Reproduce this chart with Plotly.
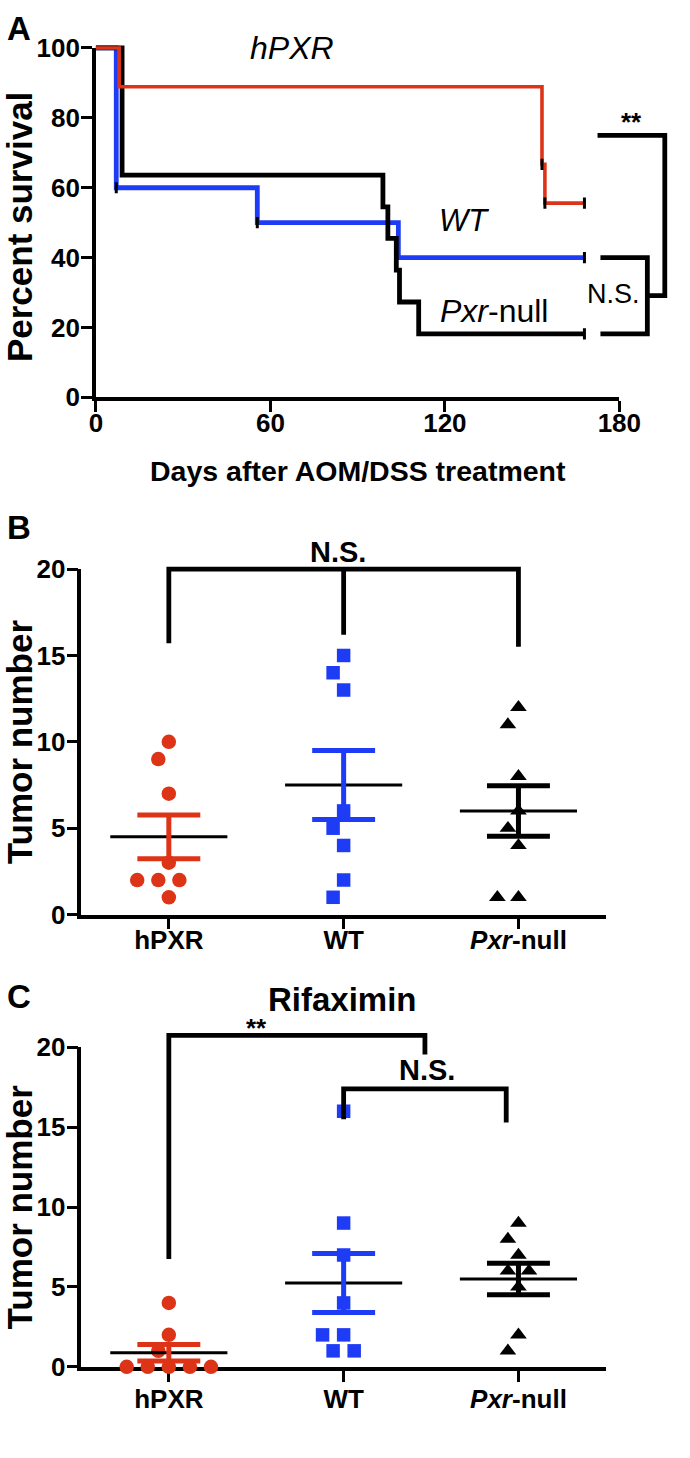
import numpy as np
import plotly.graph_objects as go

W, H = 690, 1458

# ---------------- Data ----------------
# Panel A: Kaplan-Meier survival (days after treatment, percent survival)
days_hpxr = [0, 8, 153.4, 154.4, 168]
surv_hpxr = [100, 88.9, 66.7, 55.6, 55.6]
days_wt = [0, 7, 55.5, 104, 168]
surv_wt = [100, 60, 50, 40, 40]
days_null = [0, 9, 98.7, 100.4, 103.3, 104.4, 111, 168]
surv_null = [100, 63.6, 54.5, 45.5, 36.4, 27.3, 18.2, 18.2]
cens_hpxr_days = [153.4, 154.4, 168]
cens_hpxr_surv = [66.7, 55.6, 55.6]
cens_wt_days = [7, 55.5, 168]
cens_wt_surv = [60, 50, 40]
cens_null_days = [168]
cens_null_surv = [18.2]
a_xticks = [0, 60, 120, 180]
a_yticks = [0, 20, 40, 60, 80, 100]

# Panels B and C: tumor numbers per mouse
groups = ["hPXR", "WT", "<i>Pxr</i>-null"]
b_hpxr = [10, 9, 7, 3, 2, 2, 2, 1]
b_wt = [15, 14, 13, 6, 5, 4, 2, 1]
b_null = [12, 11, 8, 6, 5, 4, 1, 1]
c_hpxr = [4, 2, 1, 0, 0, 0, 0, 0]
c_wt = [16, 9, 7, 4, 2, 2, 1, 1]
c_null = [9, 8, 7, 6, 6, 5, 2, 1]
bc_yticks = [0, 5, 10, 15, 20]

RED = "#DD3418"
BLUE = "#1E3CF5"
BLACK = "#000000"
FONT = "Liberation Sans, Arial, sans-serif"

# ---------------- Geometry ----------------
# the photographed page appears slightly inset/scaled; map wanted picture px -> layout px
OX, OY, SX, SY = 6.0, 12.0, 0.959, 0.981

def DX(t):
    return (t - OX) / SX

def DY(t):
    return (t - OY) / SY

def PX(d):
    return d / W

def PY(d):
    return 1 - d / H

a_x0, a_x180 = DX(95), DX(619)
a_y0, a_y100 = DY(395), DY(45)
kA_x = (a_x180 - a_x0) / 180.0
kA_y = (a_y0 - a_y100) / 100.0
bc_xl, bc_xr = DX(80.5), DX(605.5)
kBC_x = (bc_xr - bc_xl) / 3.0
b_y0, b_y20 = DY(913), DY(567)
c_y0, c_y20 = DY(1366), DY(1046)
kB_y = (b_y0 - b_y20) / 20.0
kC_y = (c_y0 - c_y20) / 20.0


def swarm(vals, center, kx, ky, step=11.0, dmin=18.5):
    placed, xs = [], []
    cands = [0]
    for i in range(1, 30):
        cands += [-i, i]
    for v in vals:
        for c in cands:
            if all(((c - pc) * step) ** 2 + ((v - pv) * ky) ** 2 >= dmin ** 2 for pc, pv in placed):
                break
        placed.append((c, v))
        xs.append(center + c * step / kx)
    return xs


fig = go.Figure()

axis_common = dict(showgrid=False, zeroline=False, showline=True, linecolor=BLACK, linewidth=3.6,
                   ticks="outside", ticklen=11, tickwidth=3, tickcolor=BLACK, fixedrange=True,
                   tickfont=dict(family=FONT, size=26, color=BLACK, weight="bold"))

layout = dict(
    width=W, height=H, margin=dict(l=0, r=0, t=0, b=0),
    paper_bgcolor="white", plot_bgcolor="rgba(0,0,0,0)", showlegend=False,
    font=dict(family=FONT, color=BLACK),
    xaxis=dict(domain=[PX(a_x0), PX(a_x180)], range=[0, 180], anchor="y", tickvals=a_xticks,
               ticklabelstandoff=-11, **axis_common),
    yaxis=dict(domain=[PY(a_y0), PY(a_y100)], range=[0, 100], anchor="x", tickvals=a_yticks,
               ticklabelstandoff=-4, **axis_common),
    xaxis2=dict(domain=[PX(bc_xl), PX(bc_xr)], range=[-0.5, 2.5], anchor="y2", tickvals=[0, 1, 2],
                ticktext=groups, ticklabelstandoff=-12, **axis_common),
    yaxis2=dict(domain=[PY(b_y0), PY(b_y20)], range=[0, 20], anchor="x2", tickvals=bc_yticks,
                ticklabelstandoff=-4, **axis_common),
    xaxis3=dict(domain=[PX(bc_xl), PX(bc_xr)], range=[-0.5, 2.5], anchor="y3", tickvals=[0, 1, 2],
                ticktext=groups, ticklabelstandoff=-5, **axis_common),
    yaxis3=dict(domain=[PY(c_y0), PY(c_y20)], range=[0, 20], anchor="x3", tickvals=bc_yticks,
                ticklabelstandoff=-4, **axis_common),
)

ax_lo = -2
ax_hi = (W - a_x0) / kA_x
ay_lo, ay_hi = -2, 105
layout["xaxis4"] = dict(domain=[PX(a_x0 + ax_lo * kA_x), PX(a_x0 + ax_hi * kA_x)], range=[ax_lo, ax_hi],
                        anchor="y4", visible=False, fixedrange=True)
layout["yaxis4"] = dict(domain=[PY(a_y0 - ay_lo * kA_y), PY(a_y0 - ay_hi * kA_y)], range=[ay_lo, ay_hi],
                        anchor="x4", visible=False, fixedrange=True)
by_lo, by_hi = -1, 22
cy_lo, cy_hi = -1, 24
layout["xaxis5"] = dict(domain=[PX(bc_xl), PX(bc_xr)], range=[-0.5, 2.5], anchor="y5", visible=False, fixedrange=True)
layout["yaxis5"] = dict(domain=[PY(b_y0 - by_lo * kB_y), PY(b_y0 - by_hi * kB_y)], range=[by_lo, by_hi],
                        anchor="x5", visible=False, fixedrange=True)
layout["xaxis6"] = dict(domain=[PX(bc_xl), PX(bc_xr)], range=[-0.5, 2.5], anchor="y6", visible=False, fixedrange=True)
layout["yaxis6"] = dict(domain=[PY(c_y0 - cy_lo * kC_y), PY(c_y0 - cy_hi * kC_y)], range=[cy_lo, cy_hi],
                        anchor="x6", visible=False, fixedrange=True)

for xa, ya in [("x", "y"), ("x2", "y2"), ("x3", "y3")]:
    fig.add_trace(go.Scatter(x=[None], y=[None], xaxis=xa, yaxis=ya, hoverinfo="skip"))

# ---------------- Panel A ----------------
for d, s, col, w in [(days_wt, surv_wt, BLUE, 4.8), (days_null, surv_null, BLACK, 4.8),
                     (days_hpxr, surv_hpxr, RED, 3.6)]:
    fig.add_trace(go.Scatter(x=d, y=s, mode="lines", line=dict(color=col, width=w, shape="hv"),
                             xaxis="x4", yaxis="y4", hoverinfo="skip"))
cd = cens_hpxr_days + cens_wt_days + cens_null_days
cs = cens_hpxr_surv + cens_wt_surv + cens_null_surv
fig.add_trace(go.Scatter(x=cd, y=cs, mode="markers", xaxis="x4", yaxis="y4", hoverinfo="skip",
                         marker=dict(symbol="line-ns", size=8, line=dict(color=BLACK, width=3))))

ns_top, ns_bot = surv_wt[-1], surv_null[-1]
ss_top = 75
ss_bot = (ns_top + ns_bot) / 2
ss_right = ax_hi - 1.1
ns_right = ss_right - 6.0
ss_left, ns_left = 172.5, 173.5
fig.add_trace(go.Scatter(x=[ns_left, ns_right, ns_right, ns_left], y=[ns_top, ns_top, ns_bot, ns_bot],
                         mode="lines", line=dict(color=BLACK, width=4.8), xaxis="x4", yaxis="y4",
                         hoverinfo="skip"))
fig.add_trace(go.Scatter(x=[ss_left, ss_right, ss_right, ns_right], y=[ss_top, ss_top, ss_bot, ss_bot],
                         mode="lines", line=dict(color=BLACK, width=4.8), xaxis="x4", yaxis="y4",
                         hoverinfo="skip"))

# ---------------- Panels B and C ----------------
symbols = ["circle", "square", "triangle-up"]
colors = [RED, BLUE, BLACK]
sizes = [14.5, 13.5, 14.5]
CAP_HALF = 0.18
MEAN_HALF = 0.335


def scatter_panel(sets, xa, ya, ky):
    for i, vals in enumerate(sets):
        xs = swarm(vals, i, kBC_x, ky)
        fig.add_trace(go.Scatter(x=xs, y=vals, mode="markers", xaxis=xa, yaxis=ya, cliponaxis=False,
                                 hoverinfo="skip",
                                 marker=dict(symbol=symbols[i], size=sizes[i], color=colors[i],
                                             line=dict(width=0))))
    for i, vals in enumerate(sets):
        v = np.array(vals, dtype=float)
        m = v.mean()
        se = v.std(ddof=1) / np.sqrt(len(v))
        fig.add_trace(go.Scatter(x=[i - MEAN_HALF, i + MEAN_HALF], y=[m, m], mode="lines",
                                 line=dict(color=BLACK, width=3), xaxis=xa, yaxis=ya, hoverinfo="skip"))
        fig.add_trace(go.Scatter(
            x=[i, i, None, i - CAP_HALF, i + CAP_HALF, None, i - CAP_HALF, i + CAP_HALF],
            y=[m - se, m + se, None, m + se, m + se, None, m - se, m - se], mode="lines",
            line=dict(color=colors[i], width=5), xaxis=xa, yaxis=ya, hoverinfo="skip"))


scatter_panel([b_hpxr, b_wt, b_null], "x5", "y5", kB_y)
scatter_panel([c_hpxr, c_wt, c_null], "x6", "y6", kC_y)

fig.add_trace(go.Scatter(x=[0, 0, 2, 2, None, 1, 1], y=[15.7, 20, 20, 15.5, None, 20, 16.2], mode="lines",
                         line=dict(color=BLACK, width=4.8), xaxis="x5", yaxis="y5", hoverinfo="skip"))
ns_l, ns_r = 1.0, 1.93
ns_mid = (ns_l + ns_r) / 2
fig.add_trace(go.Scatter(x=[0, 0, ns_mid, ns_mid], y=[6.75, 20.75, 20.75, 19.55], mode="lines",
                         line=dict(color=BLACK, width=4.8), xaxis="x6", yaxis="y6", hoverinfo="skip"))
fig.add_trace(go.Scatter(x=[ns_l, ns_l, ns_r, ns_r], y=[15.5, 17.4, 17.4, 15.3], mode="lines",
                         line=dict(color=BLACK, width=4.8), xaxis="x6", yaxis="y6", hoverinfo="skip"))

# ---------------- Text ----------------
def ann(text, x, y, xref="paper", yref="paper", size=24, weight="bold", angle=0, xanchor="center",
        yanchor="middle"):
    return dict(text=text, x=x, y=y, xref=xref, yref=yref, showarrow=False, textangle=angle,
                xanchor=xanchor, yanchor=yanchor,
                font=dict(family=FONT, size=size, color=BLACK, weight=weight))


annotations = [
    ann("A", PX(13), PY(14), size=33),
    ann("B", PX(13), PY(DY(525)), size=33),
    ann("C", PX(13), PY(DY(995)), size=33),
    ann("Percent survival", PX(13), PY(DY(224)), size=35, angle=-90),
    ann("Tumor number", PX(13), PY(DY(740)), size=35, angle=-90),
    ann("Tumor number", PX(13), PY(DY(1206)), size=35, angle=-90),
    ann("Days after AOM/DSS treatment", PX(DX(357)), PY(DY(469)), size=28.5),
    ann("<i>hPXR</i>", 67.5, 100, "x4", "y4", size=32, weight="normal"),
    ann("<i>WT</i>", 126.5, 50.5, "x4", "y4", size=31, weight="normal"),
    ann("<i>Pxr</i>-null", 136.8, 24.8, "x4", "y4", size=32, weight="normal"),
    ann("**", (ss_left + ss_right) / 2, 78.7, "x4", "y4", size=26),
    ann("N.S.", 178, 29.6, "x4", "y4", size=27, weight="normal"),
    ann("N.S.", 0.965, 21.0, "x5", "y5", size=29),
    ann("Rifaximin", 0.995, 23.0, "x6", "y6", size=33),
    ann("**", 0.5, 21.2, "x6", "y6", size=26),
    ann("N.S.", 1.475, 18.6, "x6", "y6", size=29),
]
layout["annotations"] = annotations

fig.update_layout(**layout)
fig.write_html("out.html", config={"displayModeBar": False},
               post_script="document.body.style.margin='0';document.body.style.overflow='hidden';")
